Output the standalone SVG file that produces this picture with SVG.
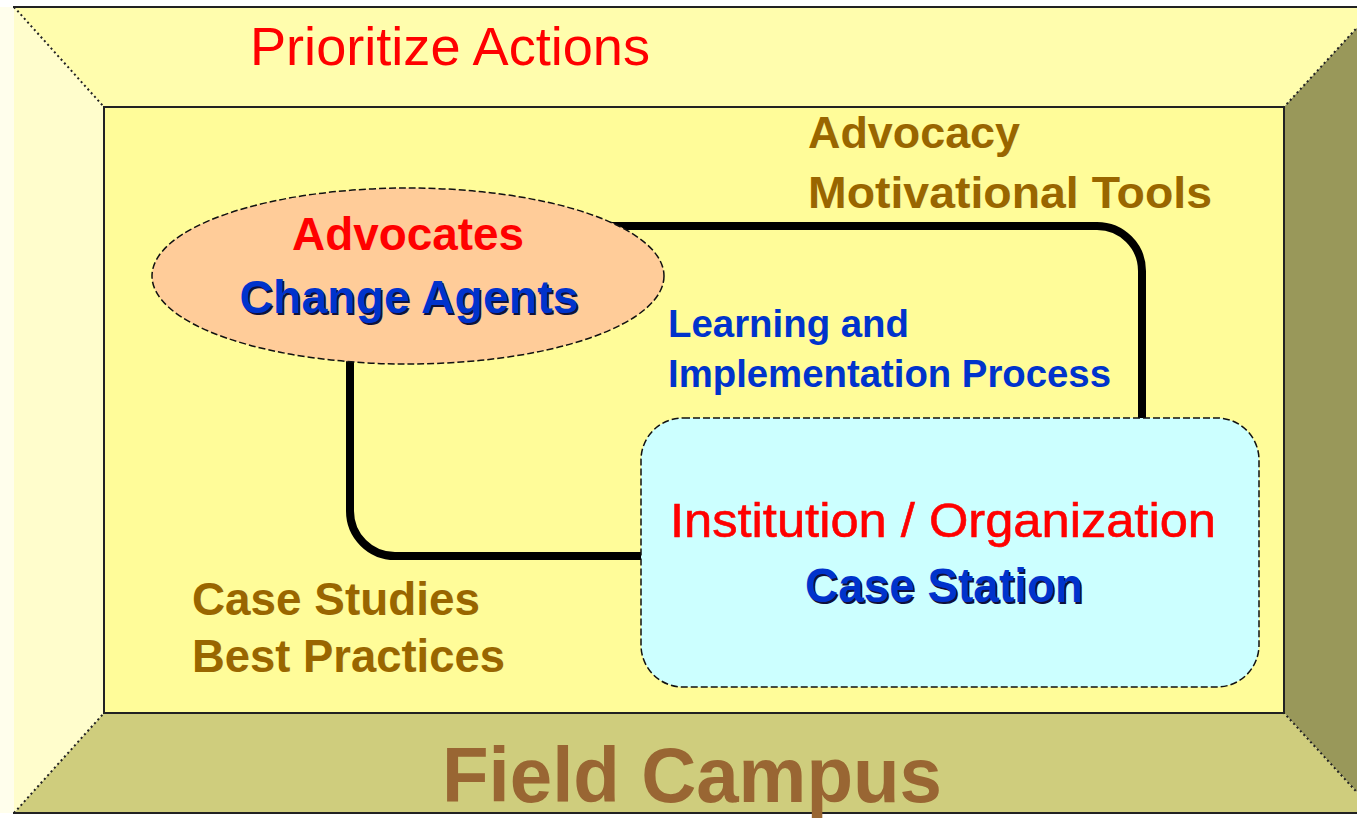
<svg xmlns="http://www.w3.org/2000/svg" width="1357" height="819" viewBox="0 0 1357 819">
<style>
text{font-family:"Liberation Sans",Arial,sans-serif}
.b{font-weight:bold}
.brown{fill:#996600}
.blue{fill:#0033CC}
.shadow{fill:#10103a}
.red{fill:#FF0000}
.dot{stroke:#222;stroke-width:2;stroke-dasharray:2 3;fill:none}
.edge{stroke:#222;stroke-width:2}
.loop{stroke:#000;stroke-width:8;fill:none}
.dash{stroke:#111;stroke-width:1.5;stroke-dasharray:7 3}
</style>
<rect x="0" y="0" width="1357" height="819" fill="#ffffff"/>
<rect x="0" y="7" width="14" height="806" fill="#FFFEEC"/>
<g id="frame">
<polygon points="14,7 1376,7 1284,107 104,107" fill="#FFFDAD"/>
<polygon points="14,7 104,107 104,713 14,813" fill="#FFFDCC"/>
<polygon points="1376,7 1376,813 1284,713 1284,107" fill="#99985A"/>
<polygon points="14,813 104,713 1284,713 1376,813" fill="#CFCD7D"/>
<rect x="104" y="107" width="1180" height="606" fill="#FFFC99" class="edge"/>
<line x1="14" y1="7" x2="104" y2="107" class="dot"/>
<line x1="1376" y1="7" x2="1284" y2="107" class="dot"/>
<line x1="14" y1="813" x2="104" y2="713" class="dot"/>
<line x1="1376" y1="813" x2="1284" y2="713" class="dot"/>
<line x1="13" y1="7" x2="1357" y2="7" class="edge"/>
<line x1="13" y1="813" x2="1357" y2="813" class="edge"/>
</g>
<g id="connectors">
<path class="loop" d="M600,226 H1097 A45,45 0 0 1 1142,271 V440"/>
<path class="loop" d="M350,330 V511 A45,45 0 0 0 395,556 H660"/>
</g>
<g id="advocates">
<ellipse cx="408" cy="276" rx="256" ry="88" fill="#FFCC99" class="dash"/>
<text x="408" y="250" text-anchor="middle" class="b red" font-size="46" textLength="232" lengthAdjust="spacingAndGlyphs">Advocates</text>
<text x="410.5" y="314.5" text-anchor="middle" class="b shadow" font-size="47" textLength="339" lengthAdjust="spacingAndGlyphs">Change Agents</text>
<text x="409" y="313" text-anchor="middle" class="b blue" font-size="47" textLength="339" lengthAdjust="spacingAndGlyphs">Change Agents</text>
</g>
<g id="institution">
<rect x="641" y="418" width="618" height="269" rx="42" ry="42" fill="#CCFFFF" class="dash"/>
<text x="943" y="537" text-anchor="middle" class="red" font-size="49" stroke="#FF0000" stroke-width="0.6" textLength="546" lengthAdjust="spacingAndGlyphs">Institution / Organization</text>
<text x="945.5" y="603.5" text-anchor="middle" class="b shadow" font-size="49" textLength="278" lengthAdjust="spacingAndGlyphs">Case Station</text>
<text x="944" y="602" text-anchor="middle" class="b blue" font-size="49" textLength="278" lengthAdjust="spacingAndGlyphs">Case Station</text>
</g>
<g id="process-label">
<text x="668" y="337" class="b blue" font-size="38" textLength="241" lengthAdjust="spacingAndGlyphs">Learning and</text>
<text x="668" y="387" class="b blue" font-size="38" textLength="443" lengthAdjust="spacingAndGlyphs">Implementation Process</text>
</g>
<g id="prioritize">
<text x="250" y="65" class="red" font-size="53" textLength="400" lengthAdjust="spacingAndGlyphs">Prioritize Actions</text>
</g>
<g id="advocacy">
<text x="808" y="148" class="b brown" font-size="45" textLength="212" lengthAdjust="spacingAndGlyphs">Advocacy</text>
<text x="808" y="208" class="b brown" font-size="45" textLength="404" lengthAdjust="spacingAndGlyphs">Motivational Tools</text>
</g>
<g id="case-studies">
<text x="192" y="615" class="b brown" font-size="46" textLength="288" lengthAdjust="spacingAndGlyphs">Case Studies</text>
<text x="192" y="672" class="b brown" font-size="46" textLength="313" lengthAdjust="spacingAndGlyphs">Best Practices</text>
</g>
<g id="field-campus">
<text x="442" y="802" class="b" fill="#996633" font-size="78" textLength="500" lengthAdjust="spacingAndGlyphs">Field Campus</text>
</g>
</svg>
